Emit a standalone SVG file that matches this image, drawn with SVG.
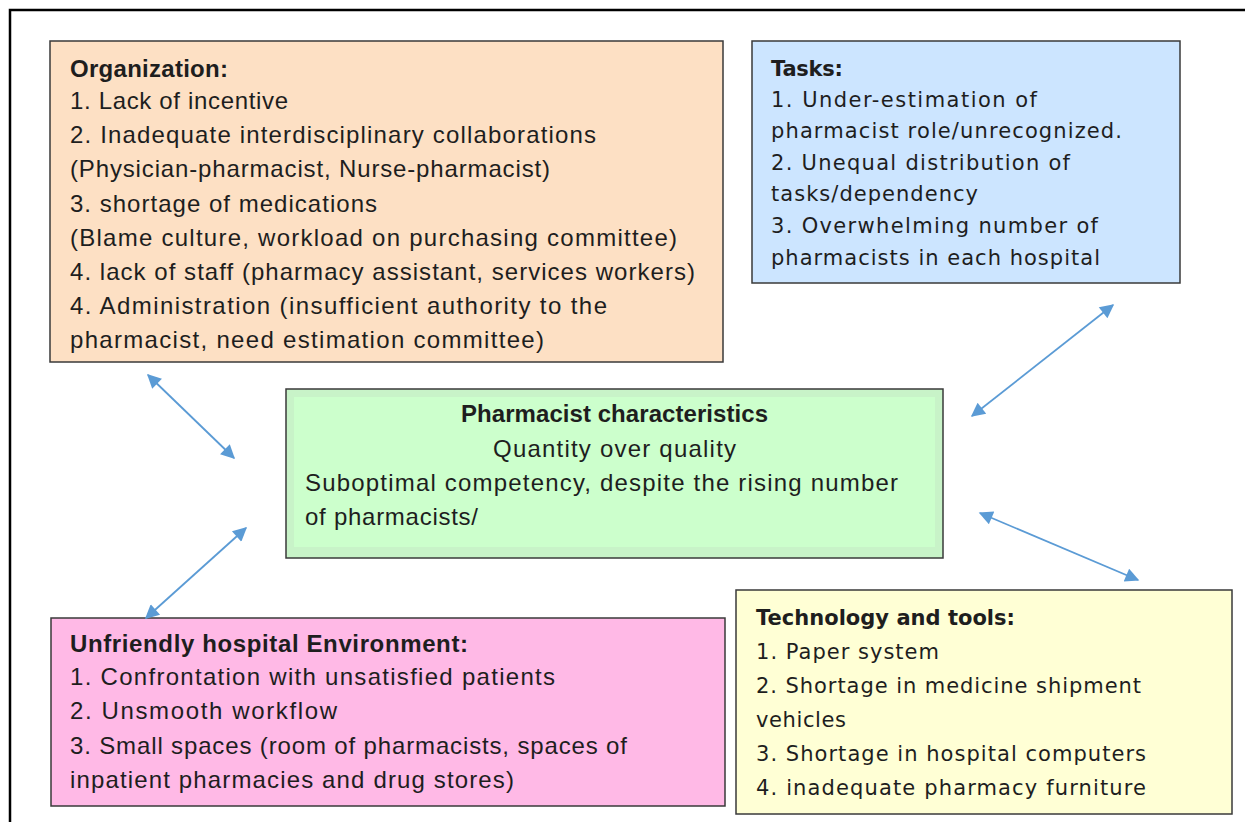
<svg xmlns="http://www.w3.org/2000/svg" width="1245" height="822" viewBox="0 0 1245 822">
  <style>
    .box { stroke: #3a3a3a; stroke-width: 1.5; }
    .t { font-family: "Liberation Sans", Arial, sans-serif; font-size: 24px; fill: #1e1e1e; }
    .w { font-family: "DejaVu Sans", Verdana, sans-serif; font-size: 21px; }
    .b { font-weight: bold; }
    .link { stroke: #5b9bd5; stroke-width: 1.8; fill: none; marker-start: url(#head); marker-end: url(#head); }
  </style>
  <defs>
    <marker id="head" viewBox="0 0 10 10" refX="9" refY="5" markerWidth="17" markerHeight="14" markerUnits="userSpaceOnUse" orient="auto-start-reverse">
      <path d="M0,0 L10,5 L0,10 z" fill="#5b9bd5"/>
    </marker>
  </defs>
  <rect width="1245" height="822" fill="#ffffff"/>

  <!-- outer frame -->
  <path d="M10,822 L10,10 L1245,10" fill="none" stroke="#000" stroke-width="2.5"/>

  <g id="organization">
    <rect class="box" x="50" y="41" width="673" height="321" fill="#fde0c4"/>
    <text class="t b" x="70" y="77" textLength="158">Organization:</text>
    <text class="t" x="70" y="109" textLength="218">1. Lack of incentive</text>
    <text class="t" x="70" y="143" textLength="526">2. Inadequate interdisciplinary  collaborations</text>
    <text class="t" x="70" y="177" textLength="480">(Physician-pharmacist,  Nurse-pharmacist)</text>
    <text class="t" x="70" y="212" textLength="307">3. shortage of medications</text>
    <text class="t" x="70" y="246" textLength="607">(Blame culture, workload on purchasing committee)</text>
    <text class="t" x="70" y="280" textLength="625">4. lack of staff (pharmacy assistant, services workers)</text>
    <text class="t" x="70" y="314" textLength="537">4. Administration (insufficient authority to the</text>
    <text class="t" x="70" y="348" textLength="474">pharmacist, need estimation committee)</text>
  </g>

  <g id="tasks">
    <rect class="box" x="752" y="41" width="428" height="242" fill="#cce5ff"/>
    <text class="t w b" x="771" y="76" textLength="72">Tasks:</text>
    <text class="t w" x="771" y="107" textLength="266">1. Under-estimation of</text>
    <text class="t w" x="771" y="138" textLength="351">pharmacist role/unrecognized.</text>
    <text class="t w" x="771" y="170" textLength="299">2. Unequal distribution of</text>
    <text class="t w" x="771" y="201" textLength="207">tasks/dependency</text>
    <text class="t w" x="771" y="233" textLength="327">3. Overwhelming number of</text>
    <text class="t w" x="771" y="265" textLength="329">pharmacists in each hospital</text>
  </g>

  <g id="pharmacist">
    <rect class="box" x="286" y="389" width="657" height="169" fill="#c8f3c8"/>
    <rect x="294" y="397" width="641" height="150" fill="#ccffcc"/>
    <text class="t b" x="461" y="422" textLength="307">Pharmacist characteristics</text>
    <text class="t" x="493" y="457" textLength="243">Quantity over quality</text>
    <text class="t" x="305" y="491" textLength="593">Suboptimal competency, despite the rising number</text>
    <text class="t" x="305" y="525" textLength="173">of pharmacists/</text>
  </g>

  <g id="environment">
    <rect class="box" x="51" y="618" width="674" height="188" fill="#ffb9e6"/>
    <text class="t b" x="70" y="652" textLength="398">Unfriendly hospital Environment:</text>
    <text class="t" x="70" y="685" textLength="485">1. Confrontation with unsatisfied patients</text>
    <text class="t" x="70" y="719" textLength="267">2. Unsmooth workflow</text>
    <text class="t" x="70" y="754" textLength="557">3. Small spaces (room of pharmacists, spaces of</text>
    <text class="t" x="70" y="788" textLength="444">inpatient pharmacies and drug stores)</text>
  </g>

  <g id="technology">
    <rect class="box" x="736" y="590" width="496" height="224" fill="#ffffd5"/>
    <text class="t w b" x="756" y="625" textLength="259">Technology and tools:</text>
    <text class="t w" x="756" y="659" textLength="183">1. Paper system</text>
    <text class="t w" x="756" y="693" textLength="385">2. Shortage in medicine shipment</text>
    <text class="t w" x="756" y="727" textLength="90">vehicles</text>
    <text class="t w" x="756" y="761" textLength="390">3. Shortage in hospital computers</text>
    <text class="t w" x="756" y="795" textLength="390">4. inadequate pharmacy furniture</text>
  </g>

  <g id="connectors">
    <line class="link" x1="148" y1="375" x2="234" y2="458"/>
    <line class="link" x1="1113" y1="305" x2="972" y2="416"/>
    <line class="link" x1="246" y1="528" x2="146" y2="618"/>
    <line class="link" x1="980" y1="513" x2="1138" y2="580"/>
  </g>
</svg>
